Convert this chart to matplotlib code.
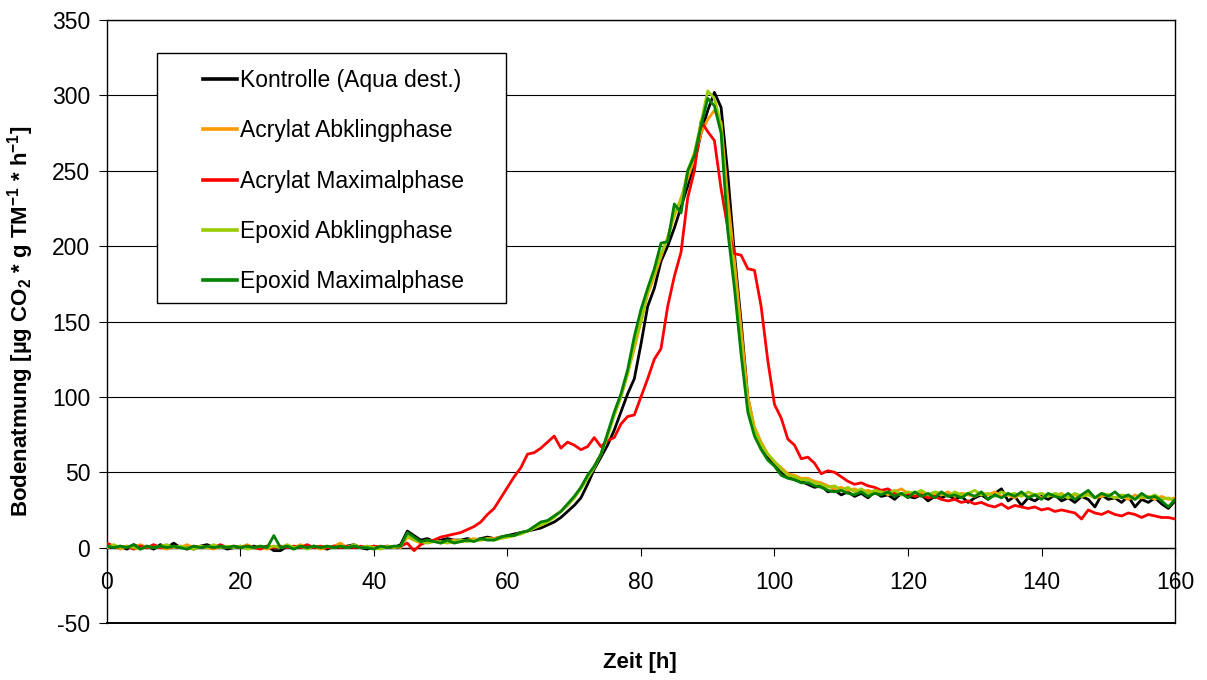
import matplotlib
matplotlib.use('Agg')
import matplotlib.pyplot as plt
from matplotlib.patches import Rectangle
import numpy as np

plt.rcParams.update({
    'font.family': ['Liberation Sans', 'DejaVu Sans'],
    'font.size': 16.5,
    'axes.unicode_minus': False,
    'mathtext.fontset': 'custom',
    'mathtext.rm': 'Liberation Sans',
    'mathtext.bf': 'Liberation Sans:bold',
})

# time axis in hours, one reading per hour
zeit = np.arange(0, 161)

kontrolle = [
    1, 0, 1, -1, 2, 0, 1, -1, 2, 0, 3, 0, 1, -1, 1, 2, 0, 1, -1, 0,
    1, 0, 1, 0, 1, -2, -2, 1, 0, 1, 0, 1, 0, -1, 1, 0, 1, 2, 0, -1,
    1, 0, 1, 0, 2, 11, 8, 5, 6, 4, 5, 6, 5, 5, 6, 5, 6, 7, 6, 7,
    8, 9, 10, 11, 12, 13, 15, 17, 20, 24, 28, 33, 42, 52, 60, 68, 78, 90, 102, 112,
    135, 160, 172, 190, 200, 212, 226, 240, 255, 275, 290, 302, 292, 248, 195, 150, 100, 78, 66, 60,
    56, 50, 47, 45, 44, 42, 40, 41, 37, 38, 35, 37, 34, 36, 33, 37, 34, 35, 32, 36,
    34, 33, 35, 31, 34, 33, 35, 32, 34, 30, 33, 35, 32, 36, 39, 31, 34, 28, 33, 31,
    34, 32, 35, 31, 33, 30, 34, 32, 27, 35, 32, 33, 30, 34, 27, 32, 30, 33, 29, 26,
    31,
]

acrylat_abkling = [
    0, 1, -1, 1, 0, 2, 0, 1, 0, -1, 1, 0, 2, 0, 1, 0, -1, 1, 0, 1,
    0, 2, 0, 1, -1, 1, 0, 1, 0, 2, 0, 1, -1, 0, 1, 3, 0, 1, 0, 1,
    0, 1, 0, 1, 0, 7, 5, 3, 4, 5, 3, 4, 5, 4, 5, 6, 5, 6, 6, 7,
    7, 8, 10, 11, 13, 15, 17, 21, 24, 28, 33, 40, 47, 54, 62, 75, 88, 100, 116, 132,
    150, 168, 180, 193, 206, 220, 232, 245, 258, 275, 284, 290, 282, 232, 190, 145, 100, 80, 70, 62,
    57, 53, 49, 48, 46, 46, 44, 43, 41, 39, 40, 38, 39, 37, 38, 36, 38, 35, 37, 39,
    36, 35, 37, 34, 36, 35, 37, 34, 36, 35, 34, 36, 35, 37, 34, 35, 33, 36, 34, 35,
    33, 35, 34, 36, 33, 35, 34, 36, 33, 34, 35, 33, 34, 32, 35, 33, 34, 32, 34, 32,
    33,
]

acrylat_maximal = [
    3, 1, 0, 1, -1, 1, 0, 2, 0, 1, 0, 1, -1, 1, 0, 1, 0, 2, 0, 1,
    0, 1, 0, -1, 1, 0, 1, 0, 1, 0, 2, 0, 1, 0, 1, 0, 1, 0, 1, 0,
    1, 0, 1, 0, 1, 3, -2, 2, 4, 5, 7, 8, 9, 10, 12, 14, 17, 22, 26, 33,
    40, 47, 53, 62, 63, 66, 70, 74, 66, 70, 68, 65, 67, 73, 67, 71, 73, 82, 87, 88,
    100, 112, 125, 132, 160, 180, 196, 232, 250, 283, 276, 270, 238, 212, 195, 194, 185, 184, 160, 124,
    95, 86, 72, 68, 59, 60, 56, 49, 51, 50, 47, 44, 42, 43, 41, 40, 38, 39, 36, 35,
    36, 34, 35, 33, 34, 32, 31, 32, 30, 31, 29, 30, 28, 27, 29, 26, 28, 27, 26, 27,
    25, 26, 24, 25, 24, 23, 19, 25, 23, 22, 24, 22, 21, 23, 22, 20, 22, 21, 20, 20,
    19,
]

epoxid_abkling = [
    0, 2, 0, 1, 0, -1, 1, 0, 1, 2, 0, 1, 0, -1, 1, 0, 2, 0, 1, 0,
    1, -1, 0, 1, 0, 1, 0, 2, 0, 1, -1, 1, 0, 1, 0, 1, 0, 2, 0, 1,
    0, -1, 1, 0, 1, 8, 5, 4, 3, 4, 4, 3, 4, 5, 4, 5, 5, 6, 5, 6,
    7, 8, 9, 11, 13, 15, 17, 20, 24, 28, 33, 39, 46, 53, 62, 74, 88, 100, 115, 135,
    150, 170, 182, 195, 205, 222, 230, 250, 262, 282, 303, 298, 280, 220, 178, 135, 95, 78, 68, 62,
    57, 52, 48, 47, 45, 45, 43, 42, 40, 41, 38, 40, 37, 39, 36, 38, 37, 36, 38, 35,
    37, 36, 38, 35, 37, 36, 34, 37, 35, 36, 38, 35, 36, 34, 37, 35, 36, 34, 37, 35,
    36, 34, 36, 35, 33, 36, 34, 35, 33, 36, 35, 33, 35, 34, 32, 34, 33, 35, 32, 33,
    31,
]

epoxid_maximal = [
    1, 0, 1, 0, 2, -1, 1, 0, 1, 0, 1, 0, -1, 1, 0, 1, 0, 1, 0, 1,
    0, 1, 0, 1, 0, 8, 0, 1, -1, 1, 0, 1, 0, 1, 0, 1, 0, 1, 0, 0,
    -1, 1, 0, 1, 1, 10, 7, 4, 5, 4, 3, 5, 3, 4, 5, 4, 6, 5, 5, 7,
    8, 8, 10, 11, 14, 17, 18, 21, 24, 29, 34, 40, 48, 54, 62, 76, 90, 102, 118, 140,
    158, 172, 185, 202, 203, 228, 222, 250, 260, 280, 298, 293, 275, 210, 172, 128, 90, 74, 65, 58,
    54, 48, 46, 45, 43, 43, 41, 40, 38, 37, 38, 36, 35, 37, 34, 36, 35, 37, 34, 36,
    33, 37, 34, 36, 33, 37, 34, 35, 33, 36, 34, 37, 32, 35, 33, 36, 34, 37, 33, 35,
    32, 36, 34, 33, 36, 32, 35, 38, 33, 36, 34, 37, 33, 35, 32, 36, 33, 34, 31, 27,
    32,
]

labels = ['Kontrolle (Aqua dest.)', 'Acrylat Abklingphase', 'Acrylat Maximalphase',
          'Epoxid Abklingphase', 'Epoxid Maximalphase']
colors = ['#000000', '#FF9900', '#FF0000', '#99CC00', '#008000']
series = [kontrolle, acrylat_abkling, acrylat_maximal, epoxid_abkling, epoxid_maximal]

fig = plt.figure(figsize=(12.07, 6.8), dpi=100)
ax = fig.add_axes([0.0886, 0.0838, 0.8849, 0.8868])

for vals, lab, col in zip(series, labels, colors):
    ax.plot(zeit, vals, color=col, linewidth=2.0, label=lab, zorder=3)

ax.set_xlim(0, 160)
ax.set_ylim(-50, 350)
ax.set_xticks(np.arange(0, 161, 20))
ax.set_yticks(np.arange(-50, 351, 50))

# Excel style: horizontal grid, category axis crossing at y=0
ax.yaxis.grid(True, color='black', linewidth=0.8)
ax.set_axisbelow(True)
ax.spines['bottom'].set_position(('data', 0))
ax.spines['bottom'].set_zorder(2)
for s in ['left', 'right', 'top', 'bottom']:
    ax.spines[s].set_color('black')
    ax.spines[s].set_linewidth(1.0)
ax.plot([0, 1], [0, 0], transform=ax.transAxes, color='black', linewidth=1.4,
        clip_on=False, zorder=4)
ax.tick_params(axis='y', direction='out', length=6, pad=6, labelsize=16.5)
ax.tick_params(axis='x', direction='out', length=6, pad=11, labelsize=16.5)

ax.set_ylabel(r'Bodenatmung [µg CO$_\mathbf{2}$ * g TM$^\mathbf{-1}$ * h$^\mathbf{-1}$]',
              fontweight='bold', fontsize=16)
ax.yaxis.set_label_coords(-0.066, 0.5)
fig.text(0.53, 0.026, 'Zeit [h]', ha='center', va='center', fontweight='bold', fontsize=16)

# legend box
box = Rectangle((0.0468, 0.5307), 0.3268, 0.4143, transform=ax.transAxes,
                facecolor='white', edgecolor='black', linewidth=1.0, zorder=5)
ax.add_patch(box)
leg = ax.legend(loc='upper left', bbox_to_anchor=(0.0899, 0.918), frameon=False,
                borderpad=0, borderaxespad=0, labelspacing=1.18, handlelength=1.48,
                handletextpad=0.13, fontsize=16.5)
leg.set_zorder(6)
for h in leg.get_lines():
    h.set_linewidth(2.6)

fig.savefig('out.png', dpi=100)
